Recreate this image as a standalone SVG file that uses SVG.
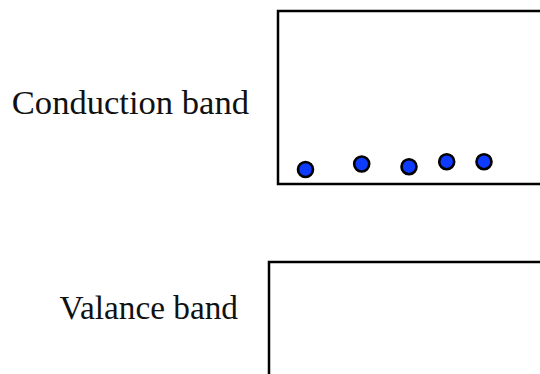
<svg xmlns="http://www.w3.org/2000/svg" width="540" height="374" viewBox="0 0 540 374">
<style>
.band{fill:#fff;stroke:#000;stroke-width:2.5}
.lbl{font-family:"Liberation Serif",serif;fill:#111;text-anchor:end}
.e{fill:#0d3bff;stroke:#000;stroke-width:2.6}
</style>
<rect width="540" height="374" fill="#fff"/>
<g id="conduction">
<rect class="band" x="278" y="11" width="300" height="173"/>
<text class="lbl" x="249" y="114" font-size="34.6">Conduction band</text>
</g>
<g id="valance">
<rect class="band" x="269" y="262" width="300" height="150"/>
<text class="lbl" x="238" y="319" font-size="33.3">Valance band</text>
</g>
<g id="electrons">
<circle class="e" cx="305.5" cy="169.5" r="7.5"/>
<circle class="e" cx="361.7" cy="164" r="7.5"/>
<circle class="e" cx="409" cy="166.7" r="7.5"/>
<circle class="e" cx="446.7" cy="161.7" r="7.5"/>
<circle class="e" cx="484" cy="161.7" r="7.5"/>
</g>
<g id="connectors"/>
</svg>
